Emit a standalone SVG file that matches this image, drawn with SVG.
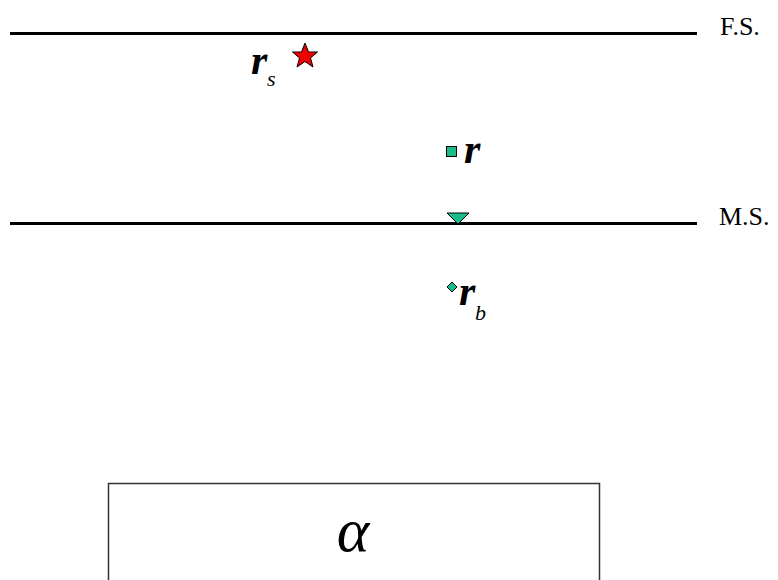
<svg xmlns="http://www.w3.org/2000/svg" width="778" height="580" viewBox="0 0 778 580">
<style>
.ln{stroke:#000;stroke-width:3;fill:none}
.lbl{font-family:"Liberation Serif",serif;font-size:26px;fill:#000}
.var{font-family:"Liberation Serif",serif;font-style:italic;font-weight:bold;fill:#000}
.sub{font-family:"Liberation Serif",serif;font-style:italic;fill:#000}
.mark{fill:#1abc8c;stroke:#000;stroke-width:1}
</style>
<rect width="778" height="580" fill="#fff"/>
<g id="surfaces">
<line class="ln" x1="10" y1="33.5" x2="697" y2="33.5"/>
<line class="ln" x1="10" y1="223.5" x2="697" y2="223.5"/>
</g>
<g id="fs"><text class="lbl" x="720" y="35">F.S.</text></g>
<g id="ms"><text class="lbl" x="719" y="225">M.S.</text></g>
<g id="rs">
<text class="var" x="251" y="74" font-size="42">r</text>
<text class="sub" x="267" y="86" font-size="22">s</text>
<polygon points="305,43 308.5,52 317.5,52 310.5,58 313,67 305,61.5 297,67 299.5,58 292.5,52 301.5,52" fill="#e00" stroke="#000" stroke-width="1"/>
</g>
<g id="r">
<rect class="mark" x="446.5" y="146.5" width="10" height="10"/>
<text class="var" x="464" y="163" font-size="42">r</text>
</g>
<g id="tri">
<polygon class="mark" points="447,213 469,213 458,224"/>
</g>
<g id="rb">
<polygon class="mark" points="452,282 457,287 452,292 447,287"/>
<text class="var" x="459" y="305" font-size="42">r</text>
<text class="sub" x="475" y="320" font-size="22">b</text>
</g>
<g id="alpha">
<rect x="108.5" y="483.5" width="491" height="110" fill="none" stroke="#333" stroke-width="1.5"/>
<text class="sub" x="353" y="551" font-size="62" text-anchor="middle">α</text>
</g>
</svg>
